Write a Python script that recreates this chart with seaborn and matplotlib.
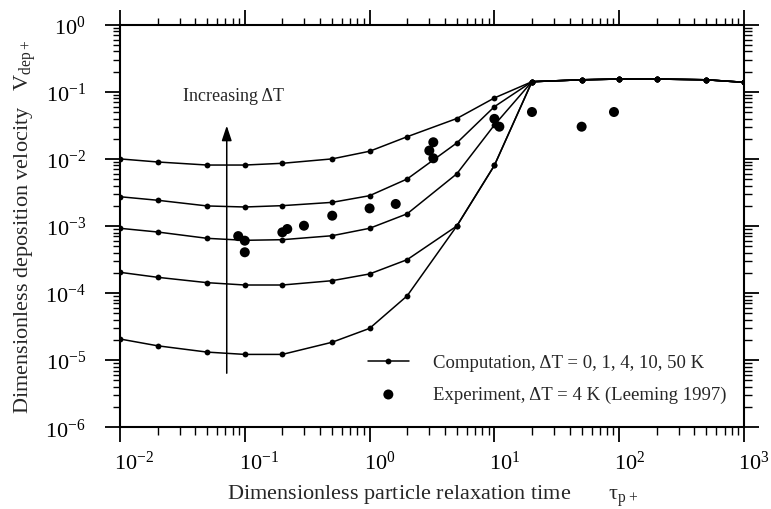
import numpy as np
import pandas as pd
import matplotlib
matplotlib.use("Agg")
import matplotlib.pyplot as plt
from matplotlib.ticker import LogLocator, NullFormatter
from matplotlib.transforms import ScaledTranslation
import seaborn as sns

# ---------------- data ----------------
tau = [0.01, 0.02, 0.05, 0.1, 0.2, 0.5, 1, 2, 5, 10, 20, 50, 100, 200, 500, 1000]
tail = [0.1415, 0.151, 0.155, 0.155, 0.151, 0.1386]  # values at 20..1000 (shared)

v_dT50 = [0.0100, 0.0090, 0.0081, 0.0081, 0.0086, 0.0100, 0.0130, 0.0214, 0.040, 0.081] + tail
v_dT10 = [0.00273, 0.00242, 0.00199, 0.00192, 0.00201, 0.00225, 0.00283, 0.00502, 0.0173, 0.060] + tail
v_dT4 = [0.000924, 0.000814, 0.000655, 0.000612, 0.000625, 0.000716, 0.000924, 0.00152, 0.0060, 0.032] + tail
v_dT1 = [0.000204, 0.000172, 0.000143, 0.000132, 0.000132, 0.000153, 0.000193, 0.000315, 0.0010, 0.0080] + tail
v_dT0 = [2.07e-5, 1.64e-5, 1.32e-5, 1.22e-5, 1.22e-5, 1.85e-5, 2.98e-5, 9.1e-5, 0.0010, 0.0080] + tail

exp_tau = [0.0886, 0.1, 0.1, 0.2, 0.219, 0.298, 0.502, 1.0, 1.62, 3.01, 3.24, 3.24,
           10.0, 10.96, 20, 50, 90.8]
exp_v = [0.000707, 0.000604, 0.000406, 0.000805, 0.000902, 0.00101, 0.001425, 0.00183,
         0.00213, 0.0133, 0.0177, 0.0102, 0.0395, 0.0302, 0.0500, 0.0302, 0.0500]

comp_label = "Computation, \u0394T = 0, 1, 4, 10, 50 K"
exp_label = "Experiment, \u0394T = 4 K (Leeming 1997)"
annot_text = "Increasing \u0394T"
xlabel = "Dimensionless particle relaxation time       \u03c4$_{\\mathregular{p+}}$"
ylabel = "Dimensionless deposition velocity   V$_{\\mathregular{dep+}}$"

# ---------------- style ----------------
sns.set_style("ticks")
plt.rcParams["font.family"] = ["Liberation Serif", "DejaVu Serif"]
plt.rcParams["mathtext.fontset"] = "custom"
plt.rcParams["mathtext.rm"] = "Liberation Serif"
plt.rcParams["mathtext.it"] = "Liberation Serif:italic"
plt.rcParams["mathtext.bf"] = "Liberation Serif:bold"
plt.rcParams["mathtext.default"] = "regular"
plt.rcParams["axes.unicode_minus"] = False

fig = plt.figure(figsize=(7.71, 5.10), dpi=100)
ax = fig.add_axes([0.1556, 0.1602, 0.8094, 0.7894])

series = [v_dT0, v_dT1, v_dT4, v_dT10, v_dT50]
for i, vals in enumerate(series):
    df = pd.DataFrame({"tau": tau, "v": vals})
    sns.lineplot(data=df, x="tau", y="v", ax=ax, color="black", lw=1.1,
                 marker="o", markersize=4.2, markeredgewidth=0, sort=False,
                 estimator=None, label=comp_label if i == 0 else None,
                 legend=False, zorder=2)

edf = pd.DataFrame({"tau": exp_tau, "v": exp_v})
sns.scatterplot(data=edf, x="tau", y="v", ax=ax, color="black", s=52,
                edgecolor="none", label=exp_label, legend=False, zorder=3)

ax.set_xscale("log")
ax.set_yscale("log")
ax.set_xlim(0.01, 1000)
ax.set_ylim(1e-6, 1)

for a in (ax.xaxis, ax.yaxis):
    a.set_major_locator(LogLocator(base=10, numticks=100))
    a.set_minor_locator(LogLocator(base=10, subs=np.arange(2, 10), numticks=100))
    a.set_minor_formatter(NullFormatter())

for s in ax.spines.values():
    s.set_linewidth(1.5)
    s.set_color("black")
    s.set_visible(True)

ax.tick_params(which="major", direction="out", length=10.5, width=1.3,
               top=True, right=True, labelsize=16, colors="black")
ax.tick_params(axis="y", which="major", pad=14)
ax.tick_params(axis="x", which="major", pad=6)
ax.tick_params(which="minor", direction="out", length=5.4, width=1.0,
               top=True, right=True, colors="black")

ax.set_xlabel(xlabel, fontsize=16)
ax.set_ylabel(ylabel, fontsize=16)
ax.xaxis.set_label_coords(0.5, -0.137)
ax.yaxis.set_label_coords(-0.132, 0.5)

# arrow annotation
arrow_x = 0.0717
ax.annotate("", xy=(arrow_x, 0.0313), xytext=(arrow_x, 6.4e-6),
            arrowprops=dict(arrowstyle="-|>,head_length=0.6,head_width=0.2",
                            lw=1.1, color="black", mutation_scale=15,
                            shrinkA=0, shrinkB=0))
ax.text(0.0819, 0.0875, annot_text, ha="center", va="center", fontsize=13)

handles, labels = ax.get_legend_handles_labels()
ax.legend(handles, labels, loc="upper left", bbox_to_anchor=(0.397, 0.182),
          frameon=False, fontsize=13.5, handlelength=2.2, handletextpad=1.3,
          labelspacing=0.8, borderpad=0, borderaxespad=0)

# x tick labels start just left of their tick, as in the reference
fig.canvas.draw()
shift = ScaledTranslation(-4 / 72, 0, fig.dpi_scale_trans)
for t in ax.xaxis.get_major_ticks():
    t.label1.set_horizontalalignment("left")
    t.label1.set_transform(t.label1.get_transform() + shift)

fig.savefig("out.png", dpi=100)
